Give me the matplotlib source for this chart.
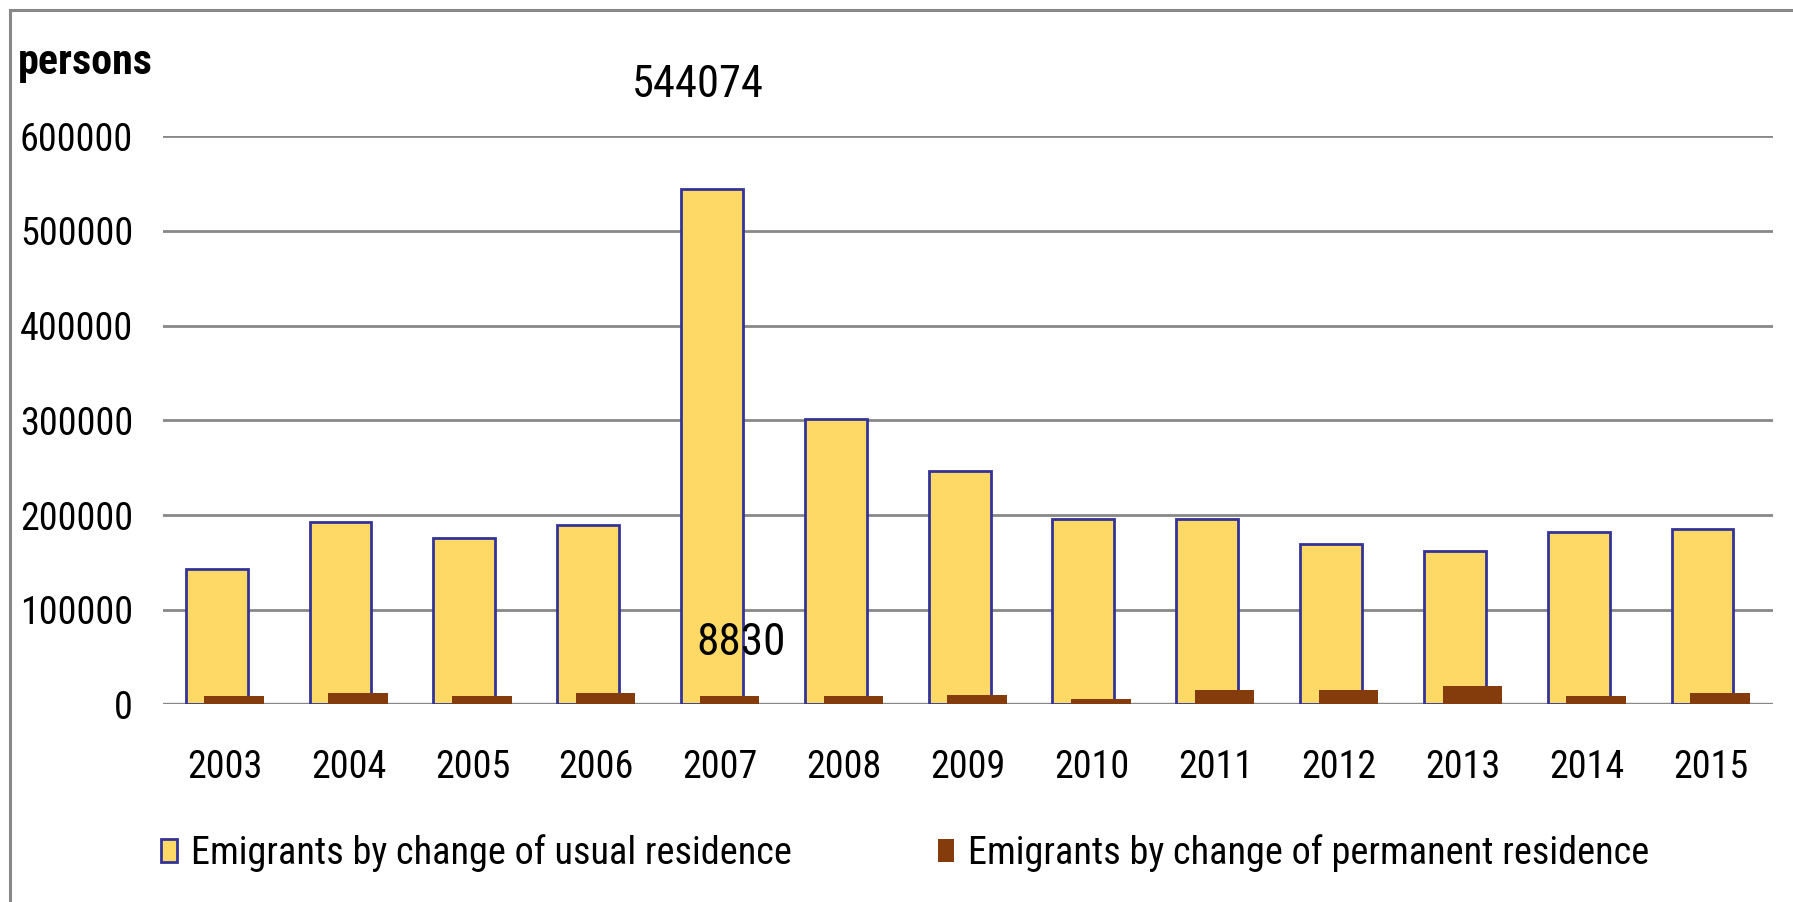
#!/usr/bin/env python3
"""Emigrants by change of usual / permanent residence, 2003-2015 (bar chart)."""

import matplotlib
matplotlib.use("Agg")
import matplotlib.pyplot as plt
from matplotlib import font_manager
from matplotlib.lines import Line2D
import numpy as np

# -----------------------------
# Data
# -----------------------------
YEARS = ["2003", "2004", "2005", "2006", "2007", "2008", "2009",
         "2010", "2011", "2012", "2013", "2014", "2015"]

USUAL = [142600, 192800, 175900, 189300, 544074, 300900, 246600,
         195700, 196000, 169000, 162200, 182300, 185400]

PERMANENT = [9300, 12200, 9100, 12400, 8830, 8700, 9500,
             5800, 15100, 15300, 19400, 9000, 12100]

SERIES_NAMES = ["Emigrants by change of usual residence",
                "Emigrants by change of permanent residence"]

Y_TICKS = [0, 100000, 200000, 300000, 400000, 500000, 600000]

# -----------------------------
# Style
# -----------------------------
YELLOW = "#FED966"
BLUE_EDGE = "#333399"
BROWN = "#843C0C"
GRID = "#888888"

# narrow faces first; the size factor keeps the text widths about the same
FONT_CHOICES = [
    ("Liberation Sans Narrow", 1.00),
    ("Roboto Condensed", 0.93),
    ("Open Sans Condensed", 0.95),
    ("Liberation Sans", 0.83),
]


def pick_font():
    installed = {f.name for f in font_manager.fontManager.ttflist}
    for name, scale in FONT_CHOICES:
        if name in installed:
            return name, scale
    return "DejaVu Sans", 0.74


FONT, FS = pick_font()
plt.rcParams["font.family"] = [FONT, "DejaVu Sans"]


def main():
    fig = plt.figure(figsize=(17.93, 9.02), dpi=100)
    ax = fig.add_axes([0.0909, 0.219, 0.8977, 0.630])

    x = np.arange(len(YEARS))
    bars_u = ax.bar(x - 0.066, USUAL, width=0.50, color=YELLOW,
                    edgecolor=BLUE_EDGE, linewidth=2.0, zorder=2)
    bars_p = ax.bar(x + 0.075, PERMANENT, width=0.48, color=BROWN,
                    linewidth=0, zorder=2.5)

    ax.set_xlim(-0.5, len(YEARS) - 0.5)
    ax.set_ylim(0, 600000)
    ax.set_yticks(Y_TICKS)
    ax.set_yticklabels([str(v) for v in Y_TICKS])
    ax.set_xticks(x)
    ax.set_xticklabels(YEARS)

    ax.yaxis.grid(True, color=GRID, linewidth=2.0)
    ax.set_axisbelow(True)
    ax.axhline(0, color=GRID, linewidth=2.4, zorder=1.5)
    for s in ax.spines.values():
        s.set_visible(False)
    ax.tick_params(axis="both", length=0, labelsize=29.5 * FS, colors="black")
    ax.tick_params(axis="y", pad=21.5)
    ax.tick_params(axis="x", pad=32)

    # value labels, as placed on the original sheet
    i07 = YEARS.index("2007")
    ax.text(i07 - 0.18, 654000, str(USUAL[i07]), fontsize=34.5 * FS,
            ha="center", va="center", clip_on=False, zorder=4)
    ax.text(i07 + 0.17, 65000, str(PERMANENT[i07]), fontsize=35 * FS,
            ha="center", va="center", zorder=4)

    fig.text(0.0097, 0.918, "persons", fontsize=32.5 * FS, fontweight="bold",
             ha="left", va="baseline")

    # legend along the bottom, one entry per series
    for bar, name, x0 in zip([bars_u[0], bars_p[0]], SERIES_NAMES,
                             [161 / 1793, 938 / 1793]):
        fig.legend([bar], [name], loc="center left",
                   bbox_to_anchor=(x0, 0.054), frameon=False,
                   fontsize=29.6 * FS, handlelength=0.41, handleheight=0.55,
                   handletextpad=0.38, borderpad=0, borderaxespad=0)

    # outer frame (top and left edges)
    fig.add_artist(Line2D([10 / 1793, 1.0], [1 - 10 / 902, 1 - 10 / 902],
                          transform=fig.transFigure, color=GRID, linewidth=2.2))
    fig.add_artist(Line2D([10 / 1793, 10 / 1793], [0.0, 1 - 10 / 902],
                          transform=fig.transFigure, color=GRID, linewidth=2.2))

    fig.savefig("out.png", dpi=100)
    plt.close(fig)


if __name__ == "__main__":
    main()
